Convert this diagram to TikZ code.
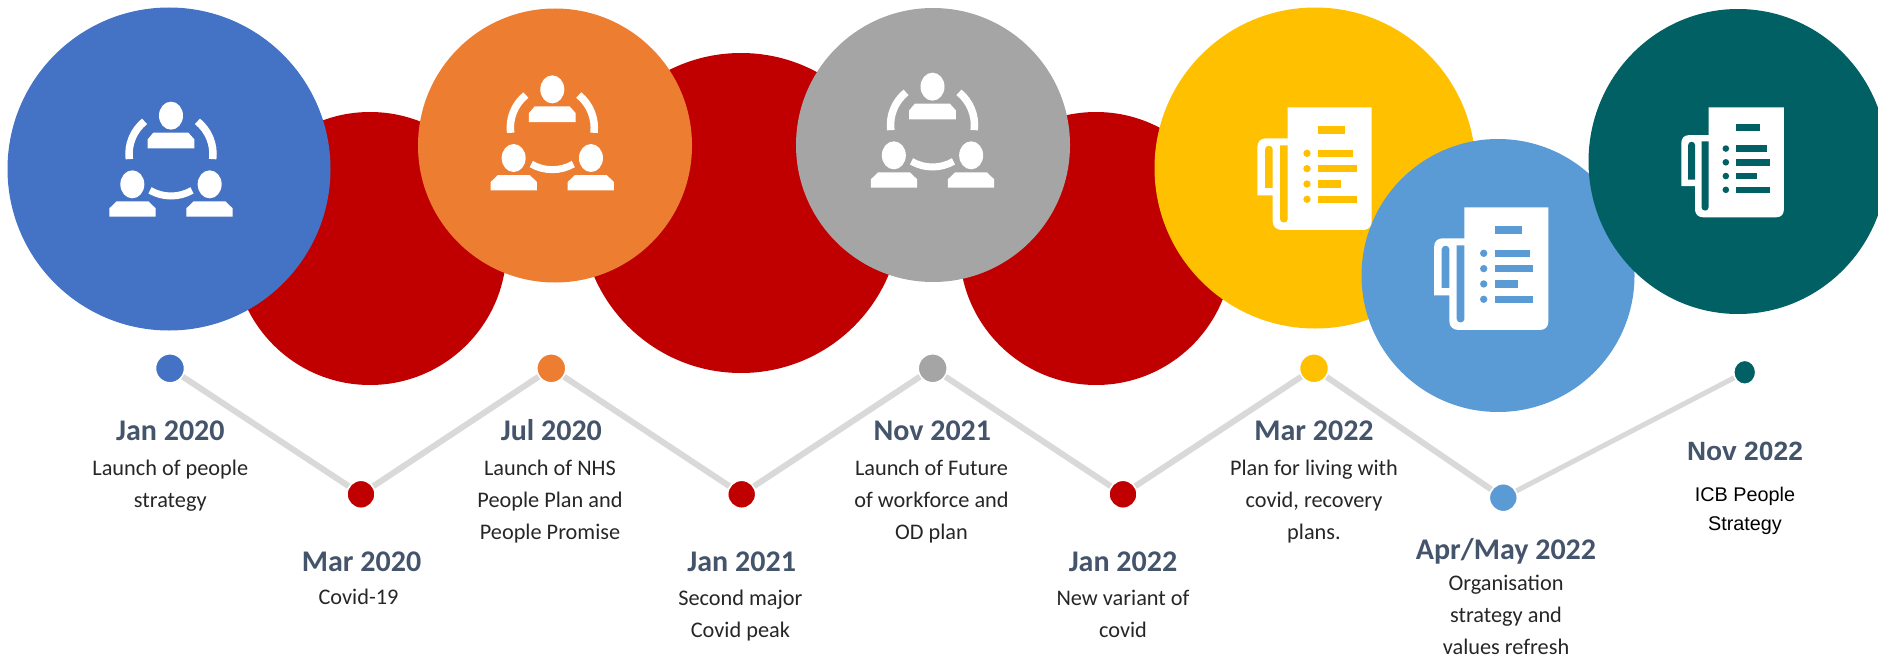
\documentclass[tikz,border=0pt]{standalone}
\usepackage{fontspec}
\setmainfont{Carlito}
\newfontfamily\arialf{Liberation Sans}
\usetikzlibrary{shapes.geometric}
\definecolor{cblue}{HTML}{4472C4}
\definecolor{cred}{HTML}{C00000}
\definecolor{corange}{HTML}{ED7D31}
\definecolor{cgray}{HTML}{A5A5A5}
\definecolor{cyellow}{HTML}{FFC000}
\definecolor{clblue}{HTML}{5B9BD5}
\definecolor{cteal}{HTML}{006064}
\definecolor{chead}{HTML}{44546A}
\definecolor{cbody}{HTML}{262626}
\definecolor{cline}{HTML}{D9D9D9}
\tikzset{
  x=1pt,y=-1pt,
  bigdisc/.style={circle,inner sep=0pt,outer sep=0pt,minimum size=#1*2pt},
  dotn/.style n args={3}{ellipse,inner sep=0pt,fill=#1,draw=white,line width=1.5pt,minimum width=#2pt,minimum height=#3pt},
  conn/.style={cline,line width=6pt},
  datelabel/.style={anchor=base,text=chead,inner sep=0pt,font=\fontsize{30}{32}\selectfont\bfseries},
  desclabel/.style={anchor=base,text=cbody,align=center,inner sep=0pt,font=\fontsize{22.3}{32}\selectfont},
  pics/peopleicon/.style={code={
    \begin{scope}[x=.3333pt,y=-.3333pt]
      \fill[white] (0,-115) ellipse [x radius=36,y radius=42];
      \fill[white] (-116,91) ellipse [x radius=36,y radius=42];
      \fill[white] (116,91) ellipse [x radius=36,y radius=42];
      \fill[white] (-70,-17) -- (-70,-44) -- (-53,-64) -- (52,-64) -- (70,-44) -- (70,-17) -- cycle;
      \fill[white] (-185,188) -- (-185,163) -- (-163,142) -- (-68,142) -- (-46,163) -- (-46,188) -- cycle;
      \fill[white] (46,188) -- (46,163) -- (68,142) -- (163,142) -- (185,163) -- (185,188) -- cycle;
      \draw[white,line width=7.5pt] (173:126) arc[start angle=173,end angle=231,radius=126];
      \draw[white,line width=7.5pt] (309:126) arc[start angle=309,end angle=367,radius=126];
      \draw[white,line width=7pt] (120:126) arc[start angle=120,end angle=60,radius=126];
    \end{scope}
  }},
  pics/docicon/.style={code={
    \begin{scope}[x=.3333pt,y=-.3333pt,shift={(-345,-295)}]
      \fill[white] (263,112) -- (515,112) -- (515,455) .. controls (515,470) and (505,480) .. (490,480)
        -- (245,480) .. controls (230,480) and (218,470) .. (218,455) -- (218,376) -- (172,376) -- (172,232)
        .. controls (172,215) and (182,205) .. (198,205) -- (263,205) -- cycle;
      \fill[#1] (195,354) -- (195,238) .. controls (195,224) and (218,224) .. (218,238) -- (218,354) -- cycle;
      \fill[#1] (240,226) -- (263,226) -- (263,447) .. controls (263,461) and (240,461) .. (240,447) -- cycle;
      \fill[#1] (355,169) rectangle (436,191);
      \fill[#1] (355,239) rectangle (459,261);
      \fill[#1] (355,285) rectangle (470,307);
      \fill[#1] (355,331) rectangle (424,353);
      \fill[#1] (355,377) rectangle (470,399);
      \fill[#1] (321,250) circle [radius=11];
      \fill[#1] (321,296) circle [radius=11];
      \fill[#1] (321,342) circle [radius=11];
      \fill[#1] (321,388) circle [radius=11];
    \end{scope}
  }}
}
\begin{document}
\begin{tikzpicture}
\useasboundingbox (0,0) rectangle (1878,661);
\clip (0,0) rectangle (1878,661);
% red discs
\node[bigdisc=136.5,fill=cred] (r1) at (370,248.5) {};
\node[bigdisc=160,fill=cred] (r2) at (741,213) {};
\node[bigdisc=136.5,fill=cred] (r3) at (1096,248.5) {};
% coloured discs
\node[bigdisc=161.5,fill=cblue] (c1) at (169,169) {};
\node[bigdisc=137,fill=corange] (c2) at (555,145.5) {};
\node[bigdisc=137,fill=cgray] (c3) at (933,145) {};
\node[bigdisc=160.5,fill=cyellow] (c4) at (1315,168) {};
\node[bigdisc=136.5,fill=clblue] (c5) at (1498,275.5) {};
\node[ellipse,inner sep=0pt,outer sep=0pt,minimum width=299pt,minimum height=305pt,fill=cteal] (c6) at (1738,161.5) {};
% icons
\pic at (171,154) {peopleicon};
\pic at (552.3,127.7) {peopleicon};
\pic at (932.5,125) {peopleicon};
\pic at (1315,168.3) {docicon=cyellow};
\pic at (1491.7,268.3) {docicon=clblue};
\pic[scale=.897] at (1733,162) {docicon=cteal};
% dots
\node[dotn={cblue}{29}{29}] (d1) at (170,368.3) {};
\node[dotn={cred}{28}{28}] (d2) at (361,494.3) {};
\node[dotn={corange}{29}{29}] (d3) at (551.3,368.3) {};
\node[dotn={cred}{28}{28}] (d4) at (741.7,494.3) {};
\node[dotn={cgray}{29}{29}] (d5) at (932.7,368.3) {};
\node[dotn={cred}{28}{28}] (d6) at (1123,494.3) {};
\node[dotn={cyellow}{29}{29}] (d7) at (1314,368.3) {};
\node[dotn={clblue}{28}{28}] (d8) at (1503.3,497.7) {};
\node[dotn={cteal}{22}{24}] (d9) at (1744.7,372.3) {};
% connectors
\draw[conn] (d1) -- (d2);
\draw[conn] (d2) -- (d3);
\draw[conn] (d3) -- (d4);
\draw[conn] (d4) -- (d5);
\draw[conn] (d5) -- (d6);
\draw[conn] (d6) -- (d7);
\draw[conn] (d7) -- (d8);
\draw[conn,line width=5pt] (d8) -- (d9);
% labels (multi-line nodes sit on the baseline of their last line)
\node[datelabel] (t1) at (170.4,440) {Jan 2020};
\node[desclabel] (b1) at (170.3,507) {Launch of people\\strategy};
\node[datelabel] (t2) at (361.6,571) {Mar 2020};
\node[desclabel] (b2) at (358.5,604.3) {Covid-19};
\node[datelabel] (t3) at (551.4,440) {Jul 2020};
\node[desclabel] (b3) at (550,539) {Launch of NHS\\People Plan and\\People Promise};
\node[datelabel] (t4) at (741.7,571) {Jan 2021};
\node[desclabel] (b4) at (740.4,637) {Second major\\Covid peak};
\node[datelabel] (t5) at (932.3,440) {Nov 2021};
\node[desclabel] (b5) at (931.5,539) {Launch of Future\\of workforce and\\OD plan};
\node[datelabel] (t6) at (1123,571) {Jan 2022};
\node[desclabel] (b6) at (1123,637) {New variant of\\covid};
\node[datelabel] (t7) at (1314,440) {Mar 2022};
\node[desclabel] (b7) at (1314,539) {Plan for living with\\covid, recovery\\plans.};
\node[datelabel] (t8) at (1506,559) {Apr/May 2022};
\node[desclabel] (b8) at (1506,654.7) {Organisation\\strategy and\\values refresh};
\node[datelabel,font=\arialf\fontsize{26.4}{30}\selectfont\bfseries] (t9) at (1745,460) {Nov 2022};
\node[desclabel,text=black,font=\arialf\fontsize{19.8}{29}\selectfont] (b9) at (1745,530) {ICB People\\Strategy};
\end{tikzpicture}
\end{document}
